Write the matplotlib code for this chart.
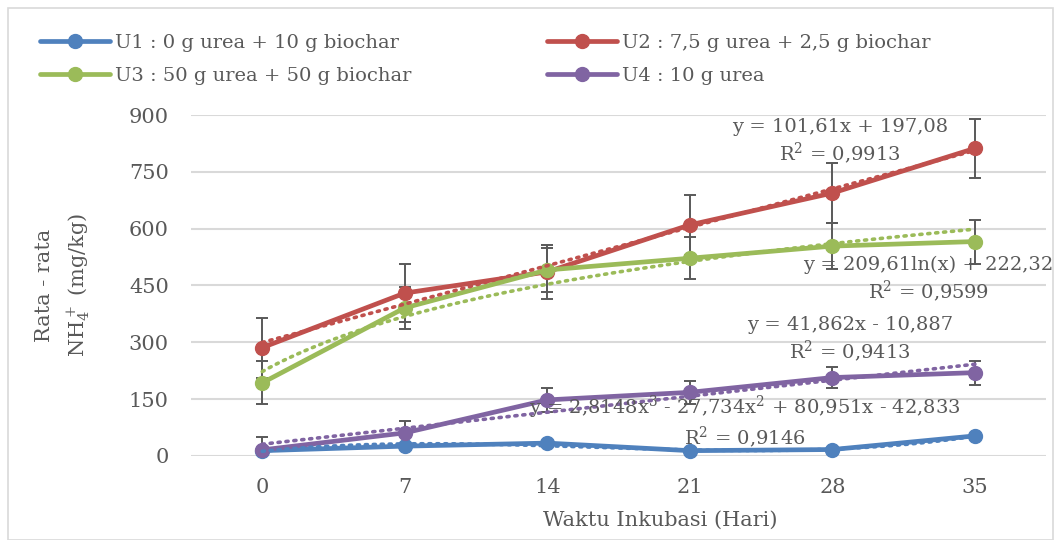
import numpy as np
import matplotlib.pyplot as plt
from matplotlib.patches import Rectangle

plt.rcParams['font.family'] = ['DejaVu Serif']
plt.rcParams['mathtext.fontset'] = 'dejavuserif'

days = ['0', '7', '14', '21', '28', '35']
names = ['U1 : 0 g urea + 10 g biochar', 'U2 : 7,5 g urea + 2,5 g biochar',
         'U3 : 50 g urea + 50 g biochar', 'U4 : 10 g urea']
u1 = [14, 26, 34, 14, 17, 53]
u2 = [286, 430, 486, 610, 694, 812]
u3 = [193, 391, 491, 522, 554, 566]
u4 = [16, 61, 148, 168, 207, 220]
e2 = [79, 77, 71, 79, 80, 78]
e3 = [57, 56, 58, 56, 60, 58]
e4 = [34, 31, 32, 30, 28, 32]
eq_text = ['y = 2,8148x$^3$ - 27,734x$^2$ + 80,951x - 42,833\nR$^2$ = 0,9146',
           'y = 101,61x + 197,08\nR$^2$ = 0,9913',
           'y = 209,61ln(x) + 222,32\nR$^2$ = 0,9599',
           'y = 41,862x - 10,887\nR$^2$ = 0,9413']

colors = ['#4F81BD', '#C0504D', '#9BBB59', '#8064A2']
grey = '#595959'
fs = 14

fig = plt.figure(figsize=(10.61, 5.40), dpi=100)
ax = fig.add_axes([0.18, 0.1556, 0.806, 0.6314])

xs = np.arange(len(days))
xi = xs + 1.0
series = [u1, u2, u3, u4]
errs = [None, e2, e3, e4]
handles = []
for k, (vals, er) in enumerate(zip(series, errs)):
    if er is not None:
        ax.errorbar(xs, vals, yerr=er, fmt='none', ecolor=grey, elinewidth=1.4,
                    capsize=4.5, capthick=1.4, zorder=2)
    h, = ax.plot(xs, vals, color=colors[k], lw=3.4, marker='o', ms=10,
                 solid_capstyle='round', zorder=3 + k, label=names[k], clip_on=False)
    handles.append(h)

# trendlines fitted from the data
dots = (0, (0.6, 1.6))
t = np.linspace(1, 6, 100)
c = np.polyfit(xi, u1, 3)
ax.plot(t - 1, np.polyval(c, t), ls=dots, color=colors[0], lw=2.6, zorder=8, dash_capstyle='round')
c = np.polyfit(xi, u2, 1)
ax.plot(t - 1, np.polyval(c, t), ls=dots, color=colors[1], lw=2.6, zorder=8, dash_capstyle='round')
c = np.polyfit(np.log(xi), u3, 1)
ax.plot(t - 1, c[0] * np.log(t) + c[1], ls=dots, color=colors[2], lw=2.6, zorder=8, dash_capstyle='round')
c = np.polyfit(xi, u4, 1)
ax.plot(t - 1, np.polyval(c, t), ls=dots, color=colors[3], lw=2.6, zorder=8, dash_capstyle='round')

ax.set_xlim(-0.5, 5.5)
ax.set_ylim(0, 900)
ax.set_xticks(xs)
ax.set_xticklabels(days)
ax.set_yticks(np.arange(0, 901, 150))
ax.grid(axis='y', color='#D9D9D9', lw=1.5, zorder=0)
ax.set_axisbelow(True)
for s in ax.spines.values():
    s.set_visible(False)
ax.tick_params(length=0, colors=grey, labelsize=15)
ax.tick_params(axis='x', pad=16)
ax.tick_params(axis='y', pad=16)

# trendline equations
pos = [(745, 422), (840, 142), (928, 280), (850, 340)]
for (px, py), s in zip(pos, eq_text):
    fig.text(px / 1061, 1 - py / 540, s, ha='center', va='center', fontsize=fs,
             color=grey, multialignment='center', linespacing=1.2, zorder=10)

fig.text(660 / 1061, 1 - 520 / 540, 'Waktu Inkubasi (Hari)', ha='center', va='center',
         fontsize=15, color=grey)
fig.text(45 / 1061, 1 - 285 / 540, 'Rata - rata', rotation=90, ha='center', va='center',
         fontsize=15, color=grey)
fig.text(79 / 1061, 1 - 285 / 540, r'NH$_4^+$ (mg/kg)', rotation=90, ha='center', va='center',
         fontsize=15, color=grey)

order = [handles[0], handles[2], handles[1], handles[3]]
fig.legend(order, [h.get_label() for h in order], loc='upper left', ncol=2,
           bbox_to_anchor=(0.021, 0.97), frameon=False, fontsize=fs, labelcolor=grey,
           handlelength=3.6, handletextpad=0.26, columnspacing=7.0, labelspacing=0.8)

fig.patches.append(Rectangle((8 / 1061, 0), 1045 / 1061, 1 - 8 / 540, transform=fig.transFigure,
                             fill=False, ec='#D9D9D9', lw=1.2))

fig.savefig('out.png', dpi=100)
